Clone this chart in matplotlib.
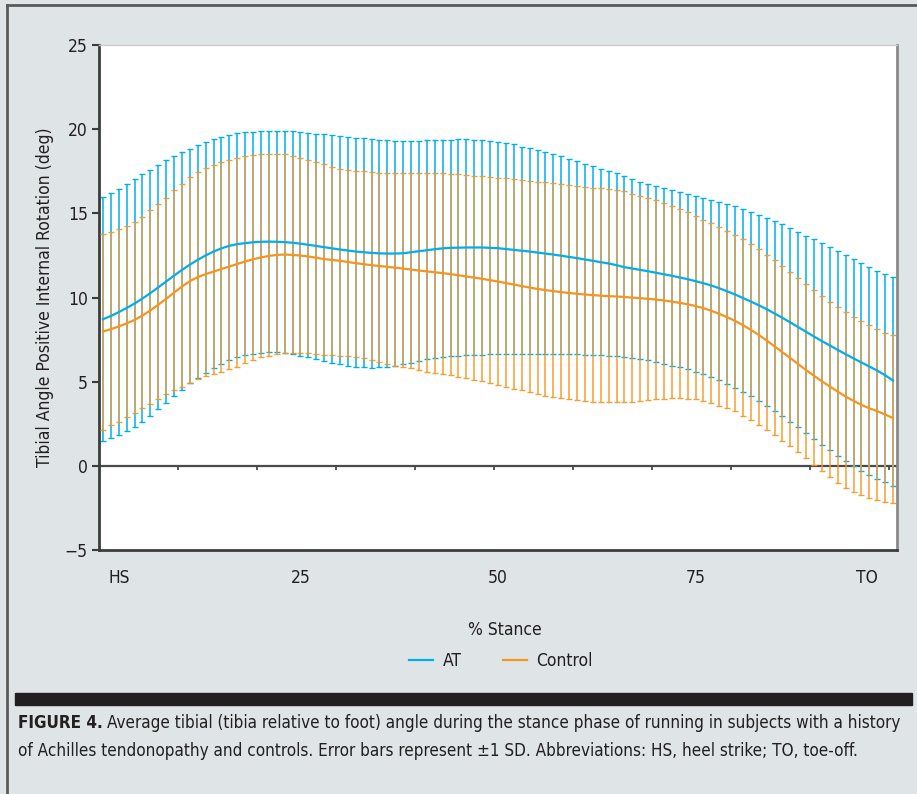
import matplotlib
matplotlib.use("Agg")
import matplotlib.pyplot as plt
from matplotlib import font_manager
from matplotlib.lines import Line2D
from matplotlib.patches import Rectangle
import numpy as np

# the reference uses a condensed sans; take a narrow face if one is installed
narrow = None
for f in font_manager.fontManager.ttflist:
    tag = (f.fname + " " + f.name).lower()
    if ("narrow" in tag or "condensed" in tag or f.stretch == "condensed") and "mono" not in tag \
            and "serif" not in tag.replace("sans serif", ""):
        narrow = f
        break
if narrow is not None:
    plt.rcParams["font.family"] = [narrow.name, "DejaVu Sans"]
    plt.rcParams["font.stretch"] = "condensed"
else:
    plt.rcParams["font.family"] = ["Liberation Sans", "DejaVu Sans"]

# % stance, 0 (heel strike) .. 100 (toe-off)
stance = np.arange(101)

at_mean = np.array([
    8.71, 8.90, 9.13, 9.38, 9.64, 9.94, 10.26, 10.60, 10.95, 11.30,
    11.64, 11.95, 12.24, 12.50, 12.73, 12.92, 13.07, 13.17, 13.23, 13.28,
    13.31, 13.32, 13.31, 13.29, 13.25, 13.20, 13.13, 13.06, 12.99, 12.92,
    12.85, 12.79, 12.73, 12.69, 12.65, 12.62, 12.61, 12.61, 12.63, 12.69,
    12.75, 12.81, 12.87, 12.92, 12.95, 12.96, 12.97, 12.97, 12.97, 12.95,
    12.93, 12.88, 12.83, 12.78, 12.73, 12.67, 12.61, 12.55, 12.48, 12.41,
    12.34, 12.26, 12.18, 12.10, 12.02, 11.92, 11.80, 11.72, 11.64, 11.56,
    11.47, 11.38, 11.29, 11.19, 11.09, 10.97, 10.85, 10.71, 10.55, 10.37,
    10.18, 9.97, 9.76, 9.54, 9.31, 9.05, 8.79, 8.52, 8.24, 7.96,
    7.68, 7.41, 7.15, 6.89, 6.63, 6.38, 6.14, 5.90, 5.66, 5.38, 5.07])
at_upper = np.array([
    15.96, 16.20, 16.46, 16.73, 17.03, 17.33, 17.58, 17.86, 18.14, 18.40,
    18.63, 18.85, 19.05, 19.23, 19.40, 19.56, 19.66, 19.76, 19.82, 19.86,
    19.90, 19.92, 19.92, 19.90, 19.88, 19.84, 19.80, 19.74, 19.70, 19.64,
    19.60, 19.56, 19.50, 19.45, 19.40, 19.35, 19.33, 19.31, 19.31, 19.31,
    19.31, 19.33, 19.35, 19.37, 19.37, 19.39, 19.39, 19.37, 19.35, 19.31,
    19.25, 19.17, 19.09, 18.97, 18.87, 18.75, 18.63, 18.51, 18.38, 18.24,
    18.10, 17.96, 17.80, 17.66, 17.54, 17.38, 17.20, 17.03, 16.89, 16.75,
    16.61, 16.50, 16.38, 16.28, 16.16, 16.04, 15.92, 15.80, 15.68, 15.56,
    15.41, 15.27, 15.09, 14.91, 14.75, 14.55, 14.34, 14.12, 13.90, 13.68,
    13.47, 13.23, 12.99, 12.75, 12.51, 12.28, 12.04, 11.84, 11.60, 11.41, 11.21])
at_lower = np.array([
    1.50, 1.64, 1.84, 2.04, 2.32, 2.59, 2.97, 3.35, 3.72, 4.12,
    4.51, 4.91, 5.21, 5.50, 5.80, 6.06, 6.30, 6.46, 6.57, 6.65,
    6.71, 6.75, 6.75, 6.73, 6.65, 6.53, 6.44, 6.34, 6.22, 6.12,
    6.02, 5.94, 5.88, 5.86, 5.84, 5.86, 5.90, 5.96, 6.04, 6.12,
    6.22, 6.32, 6.38, 6.46, 6.51, 6.55, 6.59, 6.61, 6.61, 6.63,
    6.63, 6.63, 6.63, 6.63, 6.63, 6.63, 6.63, 6.63, 6.63, 6.62,
    6.62, 6.61, 6.59, 6.57, 6.55, 6.51, 6.46, 6.38, 6.34, 6.26,
    6.16, 6.06, 5.96, 5.86, 5.74, 5.58, 5.45, 5.27, 5.09, 4.87,
    4.63, 4.40, 4.14, 3.86, 3.56, 3.27, 2.95, 2.61, 2.28, 1.94,
    1.58, 1.25, 0.93, 0.59, 0.28, -0.02, -0.30, -0.55, -0.77, -0.97, -1.17])

ctrl_mean = np.array([
    7.98, 8.12, 8.28, 8.46, 8.67, 8.93, 9.23, 9.57, 9.92, 10.29,
    10.65, 10.97, 11.21, 11.39, 11.54, 11.69, 11.84, 11.99, 12.14, 12.27,
    12.38, 12.47, 12.53, 12.55, 12.53, 12.49, 12.44, 12.36, 12.28, 12.23,
    12.18, 12.11, 12.04, 11.98, 11.92, 11.87, 11.82, 11.77, 11.72, 11.66,
    11.60, 11.55, 11.50, 11.45, 11.39, 11.32, 11.25, 11.18, 11.11, 11.03,
    10.95, 10.86, 10.77, 10.68, 10.59, 10.51, 10.44, 10.38, 10.32, 10.27,
    10.22, 10.18, 10.14, 10.11, 10.08, 10.06, 10.03, 9.99, 9.96, 9.92,
    9.88, 9.82, 9.76, 9.68, 9.60, 9.49, 9.37, 9.21, 9.03, 8.83,
    8.61, 8.36, 8.08, 7.78, 7.45, 7.10, 6.75, 6.40, 6.04, 5.69,
    5.35, 5.02, 4.71, 4.41, 4.12, 3.86, 3.62, 3.42, 3.25, 3.05, 2.83])
ctrl_upper = np.array([
    13.76, 13.90, 14.08, 14.26, 14.51, 14.81, 15.17, 15.54, 15.94, 16.36,
    16.77, 17.15, 17.45, 17.68, 17.88, 18.04, 18.16, 18.28, 18.38, 18.46,
    18.51, 18.53, 18.53, 18.50, 18.40, 18.28, 18.14, 18.02, 17.92, 17.78,
    17.66, 17.58, 17.52, 17.49, 17.45, 17.41, 17.39, 17.39, 17.39, 17.39,
    17.39, 17.39, 17.39, 17.37, 17.35, 17.31, 17.27, 17.23, 17.19, 17.15,
    17.11, 17.07, 17.03, 16.97, 16.93, 16.89, 16.85, 16.81, 16.77, 16.71,
    16.65, 16.59, 16.53, 16.48, 16.42, 16.36, 16.30, 16.16, 16.04, 15.92,
    15.78, 15.60, 15.43, 15.25, 15.05, 14.83, 14.63, 14.40, 14.18, 13.96,
    13.70, 13.47, 13.17, 12.87, 12.55, 12.22, 11.88, 11.50, 11.15, 10.79,
    10.44, 10.08, 9.74, 9.41, 9.13, 8.85, 8.59, 8.36, 8.14, 7.92, 7.76])
ctrl_lower = np.array([
    2.14, 2.40, 2.63, 2.89, 3.15, 3.43, 3.68, 3.96, 4.24, 4.50,
    4.71, 4.93, 5.17, 5.35, 5.47, 5.58, 5.74, 5.90, 6.08, 6.26,
    6.44, 6.55, 6.63, 6.69, 6.71, 6.71, 6.69, 6.65, 6.61, 6.57,
    6.53, 6.50, 6.44, 6.38, 6.28, 6.16, 6.04, 5.96, 5.90, 5.80,
    5.70, 5.60, 5.54, 5.47, 5.37, 5.27, 5.19, 5.11, 5.03, 4.93,
    4.83, 4.71, 4.59, 4.48, 4.36, 4.26, 4.16, 4.08, 4.02, 3.96,
    3.90, 3.86, 3.82, 3.80, 3.80, 3.80, 3.80, 3.82, 3.86, 3.92,
    3.96, 4.00, 4.04, 4.04, 4.00, 3.96, 3.86, 3.72, 3.58, 3.43,
    3.25, 2.99, 2.73, 2.44, 2.12, 1.82, 1.49, 1.15, 0.81, 0.44,
    0.06, -0.32, -0.67, -1.01, -1.31, -1.54, -1.76, -1.94, -2.04, -2.12, -2.18])

tick_pos = [2, 25, 50, 75, 96.7]
tick_labels = ["HS", "25", "50", "75", "TO"]

BG = "#dfe4e7"
INK = "#231f20"
BLUE = "#00aeef"
ORANGE = "#f7941d"
KHAKI = "#bdb38c"

fig = plt.figure(figsize=(9.17, 7.94), dpi=100, facecolor=BG)
ax = fig.add_axes([99 / 917, 1 - 550 / 794, 798 / 917, 505 / 794])
ax.set_facecolor("white")

ax.axhline(0, color="#4a4a4a", lw=1.6, zorder=1)
ax.vlines(np.arange(-0.5, 100, 10), -0.25, 0, color="#4a4a4a", lw=1.3, zorder=1)

ax.errorbar(stance, at_mean, yerr=[at_mean - at_lower, at_upper - at_mean],
            fmt="none", ecolor=BLUE, elinewidth=1.1, capsize=2.4, capthick=1.0, zorder=2)
ax.errorbar(stance, ctrl_mean, yerr=[ctrl_mean - ctrl_lower, ctrl_upper - ctrl_mean],
            fmt="none", ecolor=ORANGE, elinewidth=1.1, capsize=2.4, capthick=1.0,
            alpha=0.9, zorder=3)
# where both bars share a column the original print blends them to a khaki tone
ax.vlines(stance, np.maximum(at_lower, ctrl_lower), np.minimum(at_upper, ctrl_upper),
          color=KHAKI, lw=1.1, alpha=0.6, zorder=3.5)
ax.plot(stance, at_mean, color=BLUE, lw=1.6, label="AT", zorder=4)
ax.plot(stance, ctrl_mean, color=ORANGE, lw=1.6, label="Control", zorder=4)

ax.set_xlim(-0.5, 100.5)
ax.set_ylim(-5, 25)
ax.set_yticks(range(-5, 26, 5))
ax.set_xticks(tick_pos)
ax.set_xticklabels(tick_labels)
ax.tick_params(axis="y", length=5, width=1.5, color="#3c3c3c", labelsize=12.5,
               labelcolor=INK, pad=3)
ax.tick_params(axis="x", length=0, labelsize=12.5, labelcolor=INK, pad=14)

for side, col, lw in [("left", "#3c3c3c", 2.0), ("bottom", "#3c3c3c", 2.0),
                      ("right", "#8a8a8a", 2.0), ("top", "#cccccc", 1.0)]:
    ax.spines[side].set_color(col)
    ax.spines[side].set_linewidth(lw)

fig.text(45 / 917, 1 - 297 / 794, "Tibial Angle Positive Internal Rotation (deg)",
         rotation=90, ha="center", va="center", fontsize=12.5, color=INK)
fig.text(505 / 917, 1 - 630 / 794, "% Stance", ha="center", va="center",
         fontsize=12.5, color=INK)
fig.legend(loc="center", bbox_to_anchor=(501 / 917, 1 - 661 / 794), ncol=2,
           frameon=False, handlelength=1.35, columnspacing=2.4, handletextpad=0.55,
           fontsize=12.5, labelcolor=INK)

# frame lines and black caption bar
fig.add_artist(Line2D([7 / 917, 1], [1 - 5 / 794, 1 - 5 / 794], color="#5a5a5a", lw=2))
fig.add_artist(Line2D([7 / 917, 7 / 917], [0, 1 - 5 / 794], color="#5a5a5a", lw=2))
fig.add_artist(Rectangle((15 / 917, 1 - 705 / 794), 897 / 917, 12 / 794,
                         transform=fig.transFigure, color=INK))

# caption: bold lead-in, then regular text; shrink until line 1 fits 18..900 px
renderer = fig.canvas.get_renderer()
line1 = ("Average tibial (tibia relative to foot) angle during the stance phase of "
         "running in subjects with a history")
line2 = ("of Achilles tendonopathy and controls. Error bars represent \u00b11 SD. "
         "Abbreviations: HS, heel strike; TO, toe-off.")
cap_size = 14.0
while True:
    head = fig.text(18 / 917, 1 - 723 / 794, "FIGURE 4.", fontsize=cap_size,
                    fontweight="bold", color=INK, va="center")
    hb = head.get_window_extent(renderer)
    body = fig.text((hb.x1 + 4) / 917, 1 - 723 / 794, line1,
                    fontsize=cap_size, color=INK, va="center")
    if body.get_window_extent(renderer).x1 <= 902 or cap_size < 8:
        break
    head.remove()
    body.remove()
    cap_size -= 0.25
fig.text(18 / 917, 1 - 751 / 794, line2, fontsize=cap_size, color=INK, va="center")

fig.savefig("out.png", dpi=100, facecolor=BG)
